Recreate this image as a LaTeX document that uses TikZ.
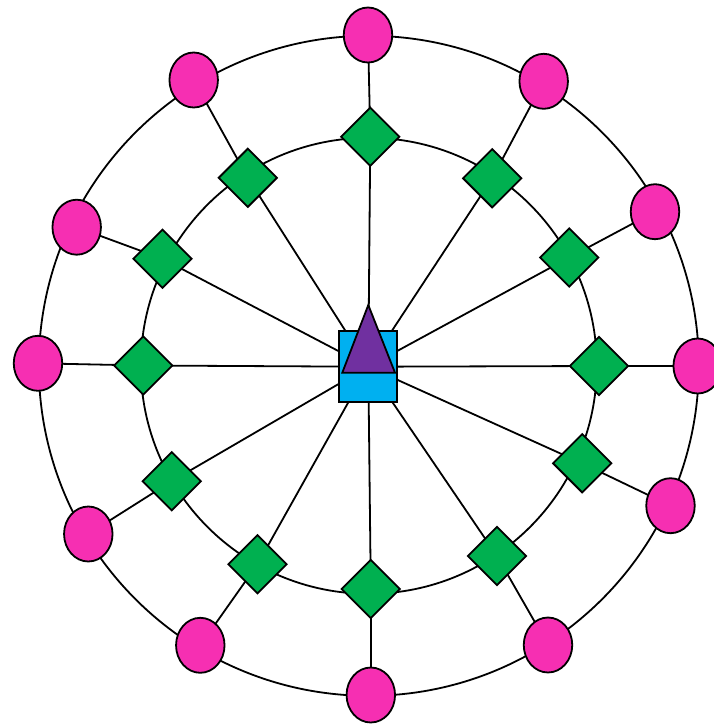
\documentclass[tikz,border=0pt]{standalone}
\usetikzlibrary{shapes.geometric,backgrounds}
\definecolor{pinkfill}{RGB}{246,47,178}
\definecolor{greenfill}{RGB}{0,176,80}
\definecolor{bluefill}{RGB}{0,176,240}
\definecolor{purplefill}{RGB}{112,48,160}
\tikzset{
  oval/.style={ellipse,draw=black,fill=pinkfill,line width=1.8pt,minimum width=48.5pt,minimum height=55pt,inner sep=0pt},
  dia/.style={diamond,draw=black,fill=greenfill,line width=1.8pt,minimum width=59pt,minimum height=59pt,inner sep=0pt},
  hub/.style={rectangle,draw=black,fill=bluefill,line width=1.8pt,minimum width=58pt,minimum height=71pt,inner sep=0pt},
  link/.style={line width=1.8pt,draw=black},
  ring/.style={line width=1.8pt,draw=black}
}
\begin{document}
\begin{tikzpicture}[x=1pt,y=-1pt]
\useasboundingbox (0,0) rectangle (714,724);
\node[hub] (c) at (368.3,366.7) {};
% diamonds
\node[dia] (d1) at (370.3,136.7) {};
\node[dia] (d2) at (492.2,178.3) {};
\node[dia] (d3) at (569.2,257.5) {};
\node[dia] (d4) at (599,366) {};
\node[dia] (d5) at (582.2,463.3) {};
\node[dia] (d6) at (497,556) {};
\node[dia] (d7) at (370.8,589) {};
\node[dia] (d8) at (257.5,564.2) {};
\node[dia] (d9) at (171.7,481.2) {};
\node[dia] (d10) at (143.3,365.5) {};
\node[dia] (d11) at (162.5,258.8) {};
\node[dia] (d12) at (247.8,177.8) {};
% ellipses
\node[oval] (e1) at (368,35) {};
\node[oval] (e2) at (543.7,81.3) {};
\node[oval] (e3) at (655,211.7) {};
\node[oval] (e4) at (697.7,366) {};
\node[oval] (e5) at (670.5,505.7) {};
\node[oval] (e6) at (548,645) {};
\node[oval] (e7) at (370.8,695) {};
\node[oval] (e8) at (200.3,645.3) {};
\node[oval] (e9) at (88.3,534) {};
\node[oval] (e10) at (38,363.3) {};
\node[oval] (e11) at (76.7,227.2) {};
\node[oval] (e12) at (193.7,80) {};
% triangle
\coordinate (tapex) at (368.3,305);
\coordinate (tl) at (342.3,372.7);
\coordinate (tr) at (395,372.7);
\draw[line width=1.8pt,fill=purplefill,line join=miter] (tapex) -- (tr) -- (tl) -- cycle;
\begin{pgfonlayer}{background}
\coordinate (o) at (368.8,365.8);
\draw[ring] (o) circle[radius=330];
\draw[ring] (o) circle[radius=228];
\foreach \i in {1,...,12}{
  \draw[link] (c.center) -- (d\i.center);
  \draw[link] (d\i.center) -- (e\i.center);
}
\end{pgfonlayer}
\end{tikzpicture}
\end{document}
